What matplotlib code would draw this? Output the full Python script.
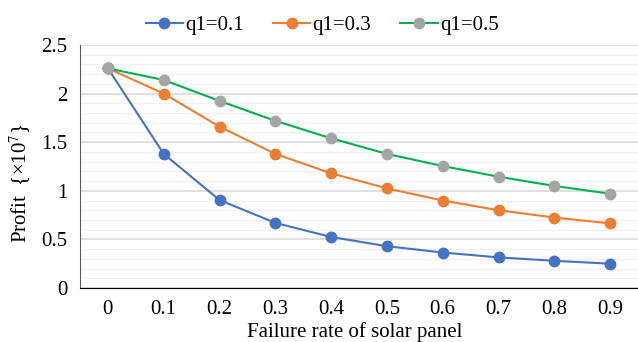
import numpy as np
import matplotlib.pyplot as plt
from matplotlib.ticker import MultipleLocator

plt.rcParams['font.family'] = ['Liberation Serif', 'DejaVu Serif']
plt.rcParams['mathtext.fontset'] = 'stix'

# failure rate categories and profit values (x10^7)
rates = ['0', '0.1', '0.2', '0.3', '0.4', '0.5', '0.6', '0.7', '0.8', '0.9']
profit_q01 = [2.26, 1.38, 0.905, 0.67, 0.525, 0.43, 0.365, 0.315, 0.28, 0.25]
profit_q03 = [2.26, 2.0, 1.66, 1.38, 1.18, 1.025, 0.9, 0.80, 0.725, 0.665]
profit_q05 = [2.26, 2.14, 1.925, 1.72, 1.54, 1.38, 1.255, 1.145, 1.05, 0.97]
y_ticks = [0, 0.5, 1, 1.5, 2, 2.5]
y_labels = ['0', '0.5', '1', '1.5', '2', '2.5']

fig = plt.figure(figsize=(6.38, 3.42), dpi=100)
ax = fig.add_axes([80 / 638, 1 - 288 / 342, 558 / 638, 243 / 342])

x = np.arange(len(rates))
series = [
    (profit_q01, 'q1=0.1', '#4472C4', '#4472C4'),
    (profit_q03, 'q1=0.3', '#ED7D31', '#ED7D31'),
    (profit_q05, 'q1=0.5', '#00B050', '#A5A5A5'),
]
for vals, lab, lc, mc in series:
    ax.plot(x, vals, color=lc, lw=1.5, marker='o', ms=7.5,
            markerfacecolor=mc, markeredgecolor=mc, label=lab, zorder=3)

ax.set_xlim(-0.5, len(rates) - 0.5)
ax.set_ylim(0, 2.5)
ax.set_xticks(x)
ax.set_xticklabels(rates)
ax.set_yticks(y_ticks)
ax.set_yticklabels(y_labels)
ax.yaxis.set_minor_locator(MultipleLocator(0.1))
ax.grid(which='major', axis='y', color='#D9D9D9', lw=1.2)
ax.grid(which='minor', axis='y', color='#F0F0F0', lw=1.0)
ax.set_axisbelow(True)
ax.tick_params(which='both', length=0, labelsize=15, pad=9)

for s in ['top', 'right']:
    ax.spines[s].set_visible(False)
ax.spines['left'].set_color('#595959')
ax.spines['bottom'].set_color('black')

# axis titles placed in figure pixels so nothing runs off the edge
fig.text(355 / 638, 5 / 342, 'Failure rate of solar panel', fontsize=15,
         ha='center', va='baseline')
fig.text(20 / 638, 1 - 183 / 342, 'Profit  {×10$^7$}', fontsize=15,
         rotation=90, ha='center', va='center')

fig.legend(loc='upper center', bbox_to_anchor=(0.505, 1.01), ncol=3,
           frameon=False, fontsize=15, handlelength=1.8, columnspacing=1.4,
           handletextpad=0.1)

fig.savefig('out.png', dpi=100)
